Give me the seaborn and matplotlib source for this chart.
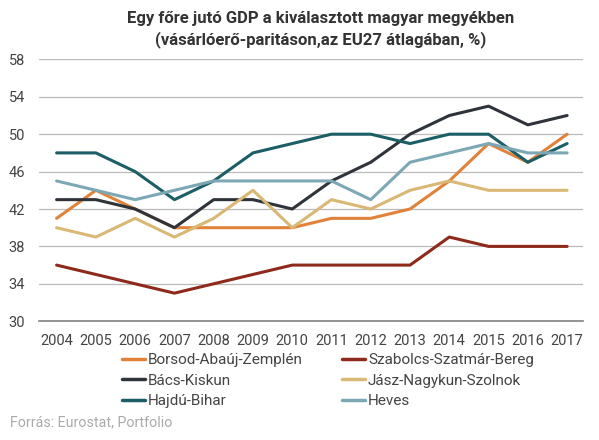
import pandas as pd
import numpy as np
import matplotlib
matplotlib.use("Agg")
import matplotlib.pyplot as plt
import seaborn as sns

years = list(range(2004, 2018))
borsod = [41, 44, 42, 40, 40, 40, 40, 41, 41, 42, 45, 49, 47, 50]
szabolcs = [36, 35, 34, 33, 34, 35, 36, 36, 36, 36, 39, 38, 38, 38]
bacs = [43, 43, 42, 40, 43, 43, 42, 45, 47, 50, 52, 53, 51, 52]
jasz = [40, 39, 41, 39, 41, 44, 40, 43, 42, 44, 45, 44, 44, 44]
hajdu = [48, 48, 46, 43, 45, 48, 49, 50, 50, 49, 50, 50, 47, 49]
heves = [45, 44, 43, 44, 45, 45, 45, 45, 43, 47, 48, 49, 48, 48]

series = {
    "Borsod-Abaúj-Zemplén": borsod,
    "Szabolcs-Szatmár-Bereg": szabolcs,
    "Bács-Kiskun": bacs,
    "Jász-Nagykun-Szolnok": jasz,
    "Hajdú-Bihar": hajdu,
    "Heves": heves,
}
colors = ["#E0823A", "#8E2A1B", "#2F343B", "#D9B774", "#1B5E66", "#7CA8B5"]

df = pd.DataFrame(
    [(y, name, v) for name, vals in series.items() for y, v in zip(years, vals)],
    columns=["year", "megye", "value"],
)

sns.set_theme(style="white")
plt.rcParams["font.family"] = ["Roboto", "DejaVu Sans"]

fig = plt.figure(figsize=(5.99, 4.4), dpi=100)
ax = fig.add_axes([0.065, 0.27, 0.908, 0.595])

sns.lineplot(data=df, x="year", y="value", hue="megye", palette=colors,
             linewidth=2.2, ax=ax, legend=False)

ax.set_ylim(30, 58)
ax.set_yticks(range(30, 59, 4))
ax.set_xlim(2003.55, 2017.4)
ax.set_xticks(years)
ax.set_xlabel("")
ax.set_ylabel("")
ax.tick_params(axis="both", labelsize=10.5, colors="#444444", length=0)
ax.tick_params(axis="x", pad=9)
ax.tick_params(axis="y", pad=10)
ax.grid(axis="y", color="#BBBBBB", linewidth=0.9)
for s in ["top", "right", "left"]:
    ax.spines[s].set_visible(False)
ax.spines["bottom"].set_color("#888888")

fig.text(0.535, 0.975, "Egy főre jutó GDP a kiválasztott magyar megyékben\n(vásárlóerő-paritáson,az EU27 átlagában, %)",
         ha="center", va="top", fontsize=12, fontweight="bold", color="#333333", linespacing=1.4)

# legend rows: fill row by row (matplotlib fills columns first)
names = list(series.keys())
handles = [plt.Line2D([0], [0], color=c, linewidth=2.5) for c in colors]
order = [0, 2, 4, 1, 3, 5]
fig.legend([handles[i] for i in order], [names[i] for i in order],
           loc="upper left", bbox_to_anchor=(0.204, 0.197),
           ncol=2, frameon=False, fontsize=11, handlelength=1.5, handletextpad=0.2,
           columnspacing=2.55, labelspacing=0.42, borderpad=0, borderaxespad=0,
           labelcolor="#444444")

fig.text(0.017, 0.041, "Forrás: Eurostat, Portfolio", fontsize=10.3, color="#AAAAAA", va="center")

fig.savefig("out.png", dpi=100)
